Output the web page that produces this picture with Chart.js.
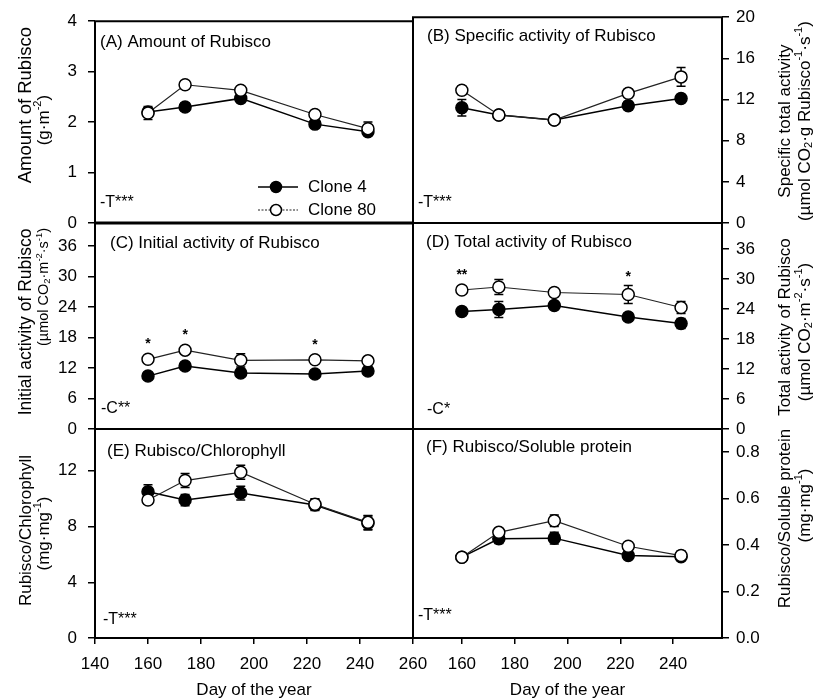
<!DOCTYPE html>
<html><head><meta charset="utf-8">
<script src="https://cdn.jsdelivr.net/npm/chart.js@4.4.1/dist/chart.umd.min.js"></script>
<style>
html,body{margin:0;padding:0;background:#fff;}
#wrap{position:relative;width:816px;height:700px;background:#fff;}
#wrap canvas{position:absolute;left:0;top:0;}
</style></head><body>
<div id="wrap">
<canvas id="cA" width="816" height="700"></canvas>
<canvas id="cB" width="816" height="700"></canvas>
<canvas id="cC" width="816" height="700"></canvas>
<canvas id="cD" width="816" height="700"></canvas>
<canvas id="cE" width="816" height="700"></canvas>
<canvas id="cF" width="816" height="700"></canvas>
</div>
<script>
// ---- data ----
const days = [160, 174, 195, 223, 243];
const xTickDays = [140, 160, 180, 200, 220, 240, 260];
const seriesNames = ['Clone 4', 'Clone 80'];

// (A) Amount of Rubisco (g·m-2)
const amount4 = [2.20, 2.30, 2.47, 1.96, 1.81];
const amount80 = [2.18, 2.74, 2.63, 2.15, 1.87];
const amountErr4 = [0.08, 0.08, 0.08, 0.06, 0.06];
const amountErr80 = [0.13, 0.08, 0.05, 0.05, 0.13];

// (B) Specific activity
const specific4 = [11.2, 10.5, 10.0, 11.4, 12.1];
const specific80 = [12.9, 10.5, 10.0, 12.6, 14.2];
const specificErr4 = [0.8, 0.3, 0.3, 0.4, 0.4];
const specificErr80 = [0.4, 0.3, 0.3, 0.4, 0.9];

// (C) Initial activity
const initial4 = [10.4, 12.4, 11.0, 10.8, 11.4];
const initial80 = [13.7, 15.5, 13.5, 13.6, 13.4];
const initialErr4 = [0.5, 0.6, 0.6, 0.5, 0.5];
const initialErr80 = [0.5, 0.6, 1.3, 0.5, 0.5];
const initialSig = ['*', '*', '', '*', ''];

// (D) Total activity
const total4 = [23.5, 23.9, 24.7, 22.4, 21.1];
const total80 = [27.8, 28.4, 27.3, 26.9, 24.3];
const totalErr4 = [0.8, 1.6, 0.8, 0.8, 1.0];
const totalErr80 = [0.6, 1.5, 0.8, 1.8, 1.2];
const totalSig = ['**', '', '', '*', ''];

// (E) Rubisco/Chlorophyll
const chl4 = [10.5, 9.9, 10.4, 9.55, 8.25];
const chl80 = [9.9, 11.3, 11.9, 9.6, 8.3];
const chlErr4 = [0.5, 0.4, 0.5, 0.4, 0.5];
const chlErr80 = [0.3, 0.5, 0.5, 0.4, 0.5];

// (F) Rubisco/Soluble protein
const prot4 = [0.348, 0.427, 0.430, 0.355, 0.350];
const prot80 = [0.348, 0.455, 0.505, 0.395, 0.355];
const protErr4 = [0.015, 0.02, 0.025, 0.015, 0.015];
const protErr80 = [0.015, 0.015, 0.025, 0.015, 0.02];

// ---- style ----
const FONT = '"Liberation Sans", Arial, Helvetica, sans-serif';
Chart.defaults.font.family = FONT;
Chart.defaults.font.size = 17;
Chart.defaults.color = '#000';

// rich text: ^{..} superscript, _{..} subscript
function parseRich(s) {
  const segs = [];
  const re = /([\^_])\{([^}]*)\}/g;
  let last = 0, m;
  while ((m = re.exec(s))) {
    if (m.index > last) segs.push({t: s.slice(last, m.index), k: 'n'});
    segs.push({t: m[2], k: m[1] === '^' ? 'sup' : 'sub'});
    last = re.lastIndex;
  }
  if (last < s.length) segs.push({t: s.slice(last), k: 'n'});
  return segs;
}
function drawRich(ctx, s, size) {
  const segs = parseRich(s);
  const fontFor = k => (k === 'n' ? size : size * 0.65) + 'px ' + FONT;
  let w = 0;
  segs.forEach(g => { ctx.font = fontFor(g.k); g.w = ctx.measureText(g.t).width; w += g.w; });
  let x = -w / 2;
  ctx.textAlign = 'left';
  segs.forEach(g => {
    ctx.font = fontFor(g.k);
    const dy = g.k === 'sup' ? -size * 0.33 : g.k === 'sub' ? size * 0.25 : 0;
    ctx.fillText(g.t, x, dy);
    x += g.w;
  });
}

const frame = {
  id: 'frame',
  beforeDatasetsDraw(chart, args, o) {
    const {ctx, chartArea: a} = chart;
    ctx.save();
    ctx.strokeStyle = '#000';
    const seg = (x1, y1, x2, y2, w) => { ctx.lineWidth = w; ctx.beginPath(); ctx.moveTo(x1, y1); ctx.lineTo(x2, y2); ctx.stroke(); };
    seg(a.left - 1, a.top, a.right + 1, a.top, o.top);
    seg(a.left - 1, a.bottom, a.right + 1, a.bottom, o.bottom);
    seg(a.left, a.top, a.left, a.bottom, o.left);
    seg(a.right, a.top, a.right, a.bottom, o.right);
    ctx.restore();
  }
};

const errorBars = {
  id: 'errorBars',
  beforeDatasetsDraw(chart) {
    const {ctx, scales: {x, y}} = chart;
    ctx.save();
    ctx.strokeStyle = '#000';
    ctx.lineWidth = 1.5;
    chart.data.datasets.forEach(ds => {
      ds.data.forEach((p, i) => {
        const e = ds.errors[i];
        const px = x.getPixelForValue(p.x);
        const y1 = y.getPixelForValue(p.y - e), y2 = y.getPixelForValue(p.y + e);
        ctx.beginPath();
        ctx.moveTo(px, y1); ctx.lineTo(px, y2);
        ctx.moveTo(px - 4.5, y1); ctx.lineTo(px + 4.5, y1);
        ctx.moveTo(px - 4.5, y2); ctx.lineTo(px + 4.5, y2);
        ctx.stroke();
      });
    });
    ctx.restore();
  }
};

const annot = {
  id: 'annot',
  afterDraw(chart, args, o) {
    const {ctx, chartArea: a, scales: {x, y}} = chart;
    ctx.save();
    ctx.fillStyle = '#000';
    ctx.font = '17px ' + FONT;
    ctx.textBaseline = 'middle';
    ctx.textAlign = 'left';
    ctx.fillText(o.title, a.left + o.tdx, a.top + o.tdy);
    ctx.font = '16px ' + FONT;
    ctx.fillText(o.note, a.left + o.ndx, a.bottom - o.ndy);
    // significance stars
    if (o.sig) {
      ctx.font = 'bold 14px ' + FONT;
      ctx.textAlign = 'center';
      ctx.textBaseline = 'alphabetic';
      o.sig.forEach((s, i) => {
        if (!s) return;
        let top = Infinity;
        chart.data.datasets.forEach(ds => {
          const p = ds.data[i];
          top = Math.min(top, y.getPixelForValue(p.y + ds.errors[i]), y.getPixelForValue(p.y) - 6);
        });
        ctx.fillText(s, x.getPixelForValue(days[i]), top - 5);
      });
    }
    // axis titles (both sides read bottom-to-top)
    ctx.textBaseline = 'middle';
    const cy = (a.top + a.bottom) / 2;
    o.yTitle.forEach((t, i) => {
      ctx.save();
      ctx.translate(o.yTitleX[i], cy + o.yTitleDy[i]);
      ctx.rotate(-Math.PI / 2);
      drawRich(ctx, t, o.yTitleSize[i]);
      ctx.restore();
    });
    // legend
    if (o.legend) {
      ctx.font = '17px ' + FONT;
      ctx.textAlign = 'left';
      chart.data.datasets.forEach((ds, i) => {
        const ly = a.bottom - 36 + i * 23;
        ctx.strokeStyle = ds.borderColor;
        ctx.lineWidth = ds.borderWidth;
        ctx.setLineDash(i === 1 ? [2, 1.5] : []);
        ctx.beginPath(); ctx.moveTo(a.left + 163, ly); ctx.lineTo(a.left + 203, ly); ctx.stroke();
        ctx.setLineDash([]);
        ctx.beginPath(); ctx.arc(a.left + 181, ly, 5.5, 0, Math.PI * 2);
        ctx.fillStyle = ds.pointBackgroundColor; ctx.fill();
        ctx.strokeStyle = '#000'; ctx.lineWidth = 1.5; ctx.stroke();
        ctx.fillStyle = '#000';
        ctx.fillText(ds.label, a.left + 213, ly);
      });
    }
    ctx.restore();
  }
};

function makePanel(p) {
  const left = p.side === 'left';
  const area = left ? {l: 95, r: 413} : {l: 413, r: 722};
  const xr = left ? {min: 140, max: 260} : {min: 141.5, max: 258.5};
  const mk = (vals, errs, i) => ({
    label: seriesNames[i],
    data: days.map((d, k) => ({x: d, y: vals[k]})),
    errors: errs,
    borderColor: i === 0 ? '#000' : '#222',
    borderWidth: i === 0 ? 1.5 : 1.2,
    pointRadius: 6,
    pointHoverRadius: 6,
    pointBorderWidth: 1.5,
    pointBorderColor: '#000',
    pointBackgroundColor: i === 0 ? '#000' : '#fff',
    backgroundColor: i === 0 ? '#000' : '#fff',
    fill: false,
    tension: 0,
    order: i === 0 ? 1 : 0
  });
  const xAxis = p.xAxis ? {
    type: 'linear', min: xr.min, max: xr.max,
    afterBuildTicks: s => { s.ticks = xTickDays.filter(v => v >= s.min && v <= s.max).map(v => ({value: v})); },
    afterFit: s => { s.height = 700 - p.bottom; },
    ticks: {autoSkip: false, maxRotation: 0, padding: 10, font: {size: 17}},
    grid: {drawOnChartArea: false, drawTicks: true, tickLength: 6, color: '#000', lineWidth: 1.5},
    border: {display: false},
    title: {display: true, text: 'Day of the year', font: {size: 17, lineHeight: 1.1}, padding: {top: 0, bottom: 0}}
  } : {type: 'linear', min: xr.min, max: xr.max, display: false};
  const yAxis = {
    type: 'linear', position: left ? 'left' : 'right', min: 0, max: p.yMax,
    afterFit: s => { s.width = left ? area.l : 816 - area.r; },
    ticks: {stepSize: p.yStep, includeBounds: false, padding: left ? 11 : 7, font: {size: 17},
      callback: v => p.dec ? v.toFixed(p.dec) : String(Math.round(v))},
    grid: {drawOnChartArea: false, drawTicks: true, tickLength: 7, color: '#000', lineWidth: 1.5},
    border: {display: false}
  };
  return new Chart(document.getElementById(p.id), {
    type: 'line',
    data: {datasets: [mk(p.c4, p.e4, 0), mk(p.c80, p.e80, 1)]},
    options: {
      responsive: false, animation: false, events: [],
      layout: {padding: {left: left ? 0 : area.l, right: left ? 816 - area.r : 0, top: p.top, bottom: p.xAxis ? 0 : 700 - p.bottom}},
      scales: {x: xAxis, y: yAxis},
      plugins: {
        legend: {display: false}, tooltip: {enabled: false},
        frame: {top: 2, bottom: p.frameBottom || 2, left: 2, right: 2},
        annot: {
          title: p.title, tdx: p.tdx, tdy: p.tdy, note: p.note, ndx: p.ndx, ndy: p.ndy, sig: p.sig,
          yTitle: p.yTitle, yTitleX: left ? [26, 44] : [785, 805], yTitleDy: p.tDy,
          yTitleSize: p.tSize || [17, 17], legend: !!p.legend
        }
      }
    },
    plugins: [frame, errorBars, annot]
  });
}

const panels = [
  {id: 'cA', side: 'left', top: 16, bottom: 223, yMax: 4, yStep: 1, c4: amount4, c80: amount80, e4: amountErr4, e80: amountErr80,
   title: '(A) Amount of Rubisco', tdx: 5, tdy: 21, note: '-T***', ndx: 5, ndy: 20,
   yTitle: ['Amount of Rubisco', '(g·m^{-2})'], tDy: [-17, -2], tSize: [18.5, 17], legend: true, frameBottom: 3},
  {id: 'cB', side: 'right', top: 16, bottom: 223, yMax: 20, yStep: 4, c4: specific4, c80: specific80, e4: specificErr4, e80: specificErr80,
   title: '(B) Specific activity of Rubisco', tdx: 14, tdy: 19, note: '-T***', ndx: 5, ndy: 20,
   yTitle: ['Specific total activity', '(µmol CO_{2}·g Rubisco^{-1}·s^{-1})'], tDy: [1, 1], frameBottom: 2},
  {id: 'cC', side: 'left', top: 223, bottom: 429, yMax: 40.5, yStep: 6, c4: initial4, c80: initial80, e4: initialErr4, e80: initialErr80,
   sig: initialSig, title: '(C) Initial activity of Rubisco', tdx: 15, tdy: 20, note: '-C**', ndx: 6, ndy: 20,
   yTitle: ['Initial activity of Rubisco', '(µmol CO_{2}·m^{-2}·s^{-1})'], tDy: [-4, -39], tSize: [17.5, 14.5]},
  {id: 'cD', side: 'right', top: 223, bottom: 429, yMax: 41.2, yStep: 6, c4: total4, c80: total80, e4: totalErr4, e80: totalErr80,
   sig: totalSig, title: '(D) Total activity of Rubisco', tdx: 13, tdy: 19, note: '-C*', ndx: 14, ndy: 19,
   yTitle: ['Total activity of Rubisco', '(µmol CO_{2}·m^{-2}·s^{-1})'], tDy: [1, 6]},
  {id: 'cE', side: 'left', top: 429, bottom: 638, yMax: 15, yStep: 4, c4: chl4, c80: chl80, e4: chlErr4, e80: chlErr80, xAxis: true,
   title: '(E) Rubisco/Chlorophyll', tdx: 12, tdy: 22, note: '-T***', ndx: 8, ndy: 18,
   yTitle: ['Rubisco/Chlorophyll', '(mg·mg^{-1})'], tDy: [-3, 0]},
  {id: 'cF', side: 'right', top: 429, bottom: 638, yMax: 0.9, yStep: 0.2, dec: 1, c4: prot4, c80: prot80, e4: protErr4, e80: protErr80, xAxis: true,
   title: '(F) Rubisco/Soluble protein', tdx: 13, tdy: 18, note: '-T***', ndx: 5, ndy: 22,
   yTitle: ['Rubisco/Soluble protein', '(mg·mg^{-1})'], tDy: [-15, -28]}
];
panels.forEach(makePanel);
</script>
</body></html>
